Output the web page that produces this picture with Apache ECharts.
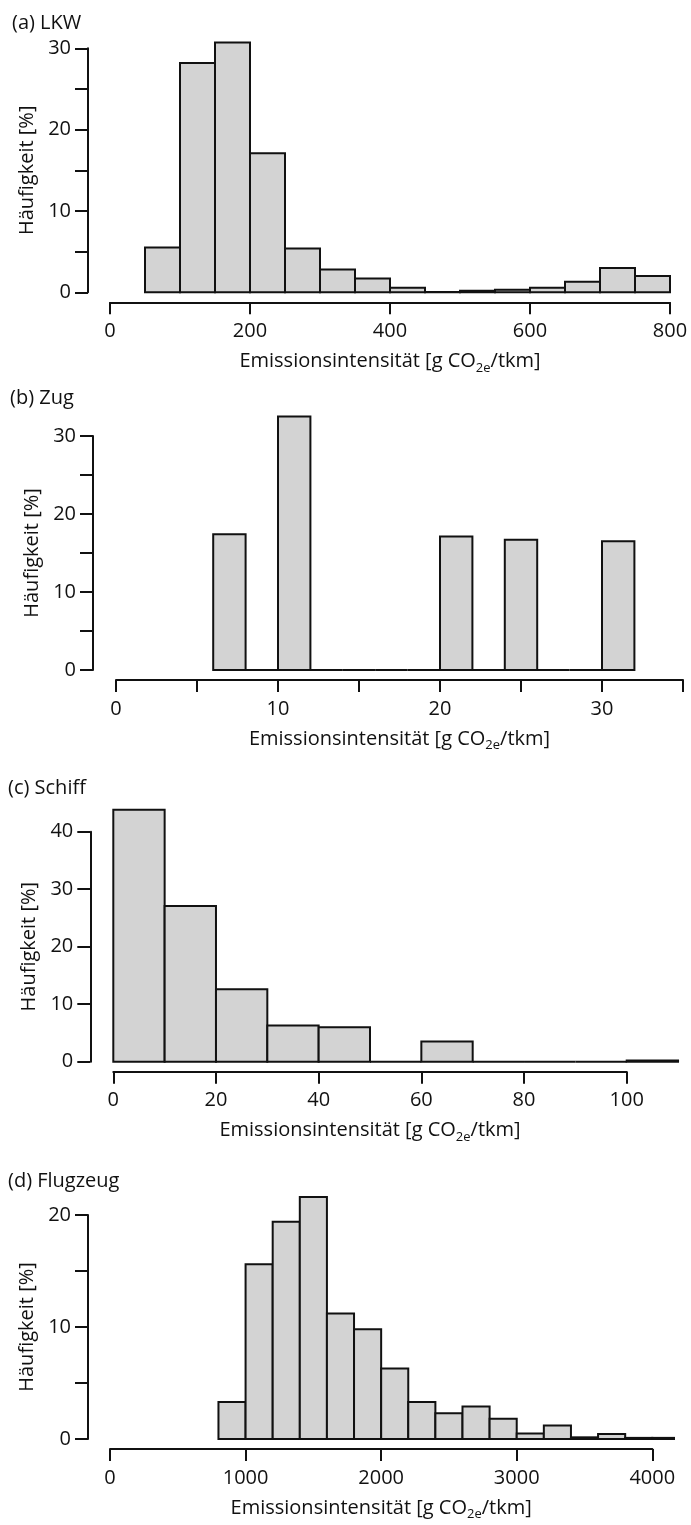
<!DOCTYPE html>
<html>
<head>
<meta charset="utf-8">
<script src="https://cdn.jsdelivr.net/npm/echarts@6/dist/echarts.min.js"></script>
<style>
  html, body { margin: 0; padding: 0; background: #fff; }
  #chart { width: 691px; height: 1525px; }
</style>
</head>
<body>
<div id="chart"></div>
<script>
// Histogram bin edges and relative frequencies (%) per transport mode
const lkwEdges = [50, 100, 150, 200, 250, 300, 350, 400, 450, 500, 550, 600, 650, 700, 750, 800];
const lkwShares = [5.5, 28.2, 30.7, 17.1, 5.4, 2.8, 1.7, 0.55, 0.05, 0.2, 0.3, 0.55, 1.3, 3.0, 2.0];

const zugEdges = [6, 8, 10, 12, 14, 16, 18, 20, 22, 24, 26, 28, 30, 32];
const zugShares = [17.4, 0, 32.5, 0, 0, 0, 0, 17.1, 0, 16.7, 0, 0, 16.5];

const schiffEdges = [0, 10, 20, 30, 40, 50, 60, 70, 80, 90, 100, 110];
const schiffShares = [43.8, 27.1, 12.6, 6.3, 6.0, 0, 3.5, 0, 0, 0, 0.2];

const flugEdges = [800, 1000, 1200, 1400, 1600, 1800, 2000, 2200, 2400, 2600, 2800, 3000, 3200, 3400, 3600, 3800, 4000, 4160];
const flugShares = [3.3, 15.6, 19.4, 21.6, 11.2, 9.8, 6.3, 3.3, 2.3, 2.9, 1.8, 0.5, 1.2, 0.15, 0.45, 0.1, 0.1];

// Axis scales and tick labelling
const panelTitles = ['(a) LKW', '(b) Zug', '(c) Schiff', '(d) Flugzeug'];
const xMax = [800, 35, 100, 4000];
const xTickStep = [200, 5, 20, 1000];
const xLabelStep = [200, 10, 20, 1000];
const yMax = [30, 30, 40, 20];
const yTickStep = [5, 5, 10, 5];
const yLabelStep = [10, 10, 10, 10];

const xName = 'Emissionsintensität [g CO{sub|2e}/tkm]';
const yName = 'Häufigkeit [%]';

const panels = [
  [lkwEdges, lkwShares],
  [zugEdges, zugShares],
  [schiffEdges, schiffShares],
  [flugEdges, flugShares]
];

// Page layout of the four stacked panels
const layout = [
  { titleTop: 13, titleLeft: 12, left: 110, right: 21, top: 48.3, height: 244, yOffset: 22 },
  { titleTop: 388, titleLeft: 10, left: 116, right: 8, top: 436, height: 234, yOffset: 23 },
  { titleTop: 778, titleLeft: 8, left: 113.3, right: 64.3, top: 831.7, height: 230, yOffset: 23 },
  { titleTop: 1171, titleLeft: 8, left: 110, right: 38.7, top: 1215, height: 224, yOffset: 22 }
];

const FONT = '"Open Sans", sans-serif';
const INK = '#111';

function renderBin(params, api) {
  const base = api.coord([api.value(0), 0]);
  const top = api.coord([api.value(1), api.value(2)]);
  return {
    type: 'rect',
    shape: { x: base[0], y: top[1], width: top[0] - base[0], height: base[1] - top[1] },
    style: { fill: '#d3d3d3', stroke: INK, lineWidth: 2 }
  };
}

const option = {
  animation: false,
  backgroundColor: '#fff',
  textStyle: { fontFamily: FONT, color: INK },
  title: layout.map((l, i) => ({
    text: panelTitles[i],
    left: l.titleLeft,
    top: l.titleTop,
    padding: 0,
    textStyle: { fontFamily: FONT, fontSize: 20, fontWeight: 'normal', color: INK }
  })),
  grid: layout.map(l => ({
    left: l.left, right: l.right, top: l.top, height: l.height,
    containLabel: false, outerBoundsMode: 'none'
  })),
  xAxis: layout.map((l, i) => ({
    type: 'value',
    gridIndex: i,
    min: 0,
    max: xMax[i],
    interval: xTickStep[i],
    offset: 10,
    name: xName,
    nameLocation: 'middle',
    nameGap: 46,
    nameTextStyle: {
      fontFamily: FONT, fontSize: 20, color: INK, lineHeight: 26,
      rich: { sub: { fontFamily: FONT, fontSize: 13, lineHeight: 14, verticalAlign: 'bottom', color: INK } }
    },
    axisLine: { show: true, onZero: false, lineStyle: { color: INK, width: 2 } },
    axisTick: { show: true, length: 12, lineStyle: { color: INK, width: 2 } },
    axisLabel: {
      margin: 19, fontFamily: FONT, fontSize: 20, color: INK,
      formatter: v => (v % xLabelStep[i] === 0 ? String(v) : '')
    },
    splitLine: { show: false }
  })),
  yAxis: layout.map((l, i) => ({
    type: 'value',
    gridIndex: i,
    min: 0,
    max: yMax[i],
    interval: yTickStep[i],
    offset: l.yOffset,
    name: yName,
    nameLocation: 'middle',
    nameRotate: 90,
    nameGap: 48,
    nameTextStyle: { fontFamily: FONT, fontSize: 20, color: INK },
    axisLine: { show: true, onZero: false, lineStyle: { color: INK, width: 2 } },
    axisTick: { show: true, length: 13, lineStyle: { color: INK, width: 2 } },
    axisLabel: {
      margin: 17, fontFamily: FONT, fontSize: 20, color: INK,
      formatter: v => (v % yLabelStep[i] === 0 ? String(v) : '')
    },
    splitLine: { show: false }
  })),
  series: panels.map(([edges, shares], i) => ({
    type: 'custom',
    xAxisIndex: i,
    yAxisIndex: i,
    clip: false,
    renderItem: renderBin,
    encode: { x: [0, 1], y: 2 },
    data: shares.map((v, k) => [edges[k], edges[k + 1], v])
  }))
};

const chart = echarts.init(document.getElementById('chart'), null, { renderer: 'canvas' });
chart.setOption(option);
</script>
</body>
</html>
